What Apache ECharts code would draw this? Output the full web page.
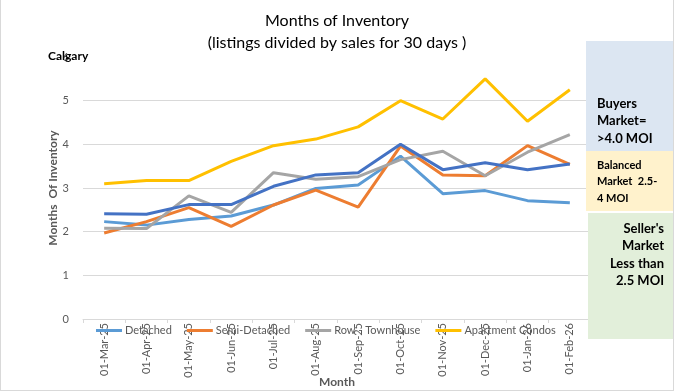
<!DOCTYPE html>
<html><head><meta charset="utf-8">
<script src="https://cdn.jsdelivr.net/npm/echarts@6/dist/echarts.min.js"></script>
<style>html,body{margin:0;padding:0;background:#fff}#c{width:674px;height:391px;box-sizing:border-box;border-left:1px solid #d9d9d9;border-right:1px solid #d9d9d9;border-bottom:1px solid #d9d9d9}</style>
</head><body><div id="c"></div>
<script>
const months = ['01-Mar-25','01-Apr-25','01-May-25','01-Jun-25','01-Jul-25','01-Aug-25','01-Sep-25','01-Oct-25','01-Nov-25','01-Dec-25','01-Jan-26','01-Feb-26'];
const yTicks = [0,1,2,3,4,5,6];
const detached = [2.23,2.15,2.28,2.36,2.61,2.99,3.07,3.73,2.87,2.94,2.71,2.66];
const semiDetached = [1.97,2.23,2.55,2.12,2.61,2.95,2.56,3.96,3.30,3.28,3.97,3.54];
const rowTownhouse = [2.08,2.07,2.82,2.44,3.35,3.20,3.26,3.65,3.84,3.28,3.82,4.22];
const apartmentCondos = [3.10,3.17,3.17,3.61,3.97,4.12,4.40,5.00,4.58,5.50,4.53,5.25];
const calgaryTotal = [2.41,2.40,2.62,2.62,3.04,3.30,3.35,4.00,3.42,3.58,3.42,3.55];
const seriesNames = ['Detached','Semi-Detached','Row - Townhouse','Apartment Condos'];

const F = 'Lato, "Open Sans", sans-serif';
const chart = echarts.init(document.getElementById('c'));
function line(name, data, color, z){
  return {name, type:'line', data, symbol:'none', z:z||2,
    lineStyle:{color, width:3}, itemStyle:{color}};
}
chart.setOption({
  animation:false,
  textStyle:{fontFamily:F},
  title:{text:'Months of Inventory\n(listings divided by sales for 30 days )', left:'center', top:5,
    textStyle:{fontFamily:F, fontSize:16, fontWeight:'normal', color:'#000', lineHeight:22}},
  grid:{left:82, right:82, top:57, bottom:71, containLabel:false, outerBoundsMode:'none'},
  legend:{data:seriesNames, left:90, top:320, itemGap:15, itemWidth:26, itemHeight:3, icon:'rect',
    textStyle:{fontFamily:F, fontSize:11, color:'#595959', padding:[0,0,0,-2]}, z:10},
  xAxis:{type:'category', data:months, boundaryGap:true, name:'Month', nameLocation:'middle', nameGap:57, nameMoveOverlap:false,
    nameTextStyle:{fontFamily:F, fontSize:12, fontWeight:'bold', color:'#595959'},
    axisLine:{lineStyle:{color:'#d9d9d9'}}, axisTick:{show:true, lineStyle:{color:'#d9d9d9'}, length:4},
    axisLabel:{rotate:90, fontSize:11, color:'#595959', fontFamily:F, margin:4, interval:0}},
  yAxis:{type:'value', min:yTicks[0], max:yTicks[yTicks.length-1], interval:1,
    name:'Months  Of Inventory', nameLocation:'middle', nameGap:24, nameMoveOverlap:false,
    nameTextStyle:{fontFamily:F, fontSize:12, fontWeight:'bold', color:'#595959'},
    axisLine:{show:false}, axisTick:{show:false},
    axisLabel:{fontSize:11, color:'#595959', fontFamily:F, margin:14},
    splitLine:{lineStyle:{color:['#d9d9d9','#d9d9d9','#d9d9d9','#d9d9d9','#d9d9d9','#d9d9d9','rgba(0,0,0,0)'], width:1}}},
  series:[
    line('Detached', detached, '#5b9bd5',3),
    line('Semi-Detached', semiDetached, '#ed7d31',3),
    line('Row - Townhouse', rowTownhouse, '#a5a5a5',3),
    line('Apartment Condos', apartmentCondos, '#ffc000',3),
    line('Calgary', calgaryTotal, '#4472c4',4)
  ],
  graphic:[
    {type:'text', left:47, top:50, z:20, style:{text:'Calgary', font:'bold 12px '+F, fill:'#000'}},
    {type:'rect', shape:{x:585,y:41,width:87,height:110}, style:{fill:'#dce6f2'}, z:5},
    {type:'rect', shape:{x:585,y:151,width:87,height:60}, style:{fill:'#fff2cc'}, z:5},
    {type:'rect', shape:{x:587,y:213,width:85,height:126}, style:{fill:'#e2efda'}, z:5},
    {type:'text', x:596, y:95, z:6, style:{text:'Buyers\nMarket=\n>4.0 MOI', font:'bold 13px '+F, fill:'#000', lineHeight:17.5}},
    {type:'text', x:596, y:157, z:6, style:{text:'Balanced\nMarket  2.5-\n4 MOI', font:'bold 11px '+F, fill:'#000', lineHeight:16.5}},
    {type:'text', x:663, y:220, z:6, style:{text:"Seller's\nMarket\nLess than\n2.5 MOI", font:'bold 13px '+F, fill:'#000', lineHeight:17.5, align:'right'}}
  ]
});
</script></body></html>
